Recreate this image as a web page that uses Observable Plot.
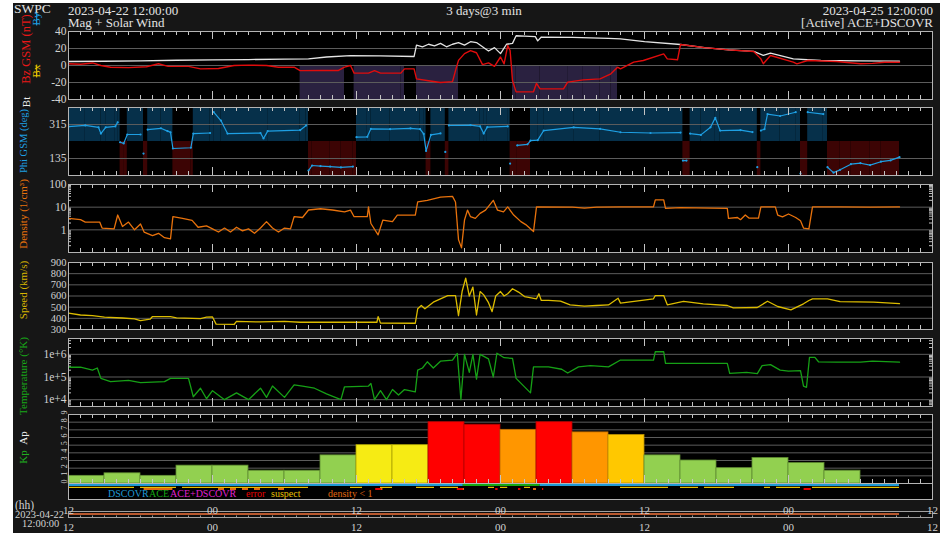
<!DOCTYPE html>
<html><head><meta charset="utf-8">
<script src="https://cdn.jsdelivr.net/npm/d3@7"></script>
<script src="https://cdn.jsdelivr.net/npm/@observablehq/plot@0.6"></script>
<style>
html,body{margin:0;padding:0;background:#fff;}
#root{position:relative;width:940px;height:533px;overflow:hidden;background:#fff;}
#bg{position:absolute;left:13px;top:3px;width:927px;height:530px;background:#161616;}
svg.p{position:absolute;left:0;}
</style></head><body><div id="root"><div id="bg"></div></div>
<script>
// ---------------- DATA (hours since 2023-04-22 12:00 UT) ----------------
const timeTickHours = [0, 12, 24, 36, 48, 60, 72];
const timeTickLabels = ["12", "00", "12", "00", "12", "00", "12"];

const bzTicks = [40, 20, 0, -20, -40];
const phiTicks = [315, 135];
const densityTicks = [100, 10, 1];
const densityTickLabels = ["100", "10", "1"];
const speedTicks = [900, 800, 700, 600, 500, 400, 300];
const tempTicks = [1e6, 1e5, 1e4];
const tempTickLabels = ["1e+6", "1e+5", "1e+4"];
const kpTicks = [0, 1, 2, 3, 4, 5, 6, 7, 8, 9];

const btSeries = [[0,4.7],[3,5],[6,5.5],[9,6.2],[12,6.5],[15,7],[18,7.5],[20,7.8],[21.5,10],[23.5,11.5],[26,11.3],[28.8,10.6],[29,24],[29.5,22],[30,25],[30.5,23],[31,26],[31.5,22],[32,25],[32.5,27],[33,24],[33.5,28],[34,27],[34.5,22],[35,17],[35.5,21],[36,14],[36.5,25],[37,26],[37.3,35],[38,34.5],[38.9,34],[39.1,29],[39.4,33.5],[42,33],[45,32],[46,31.4],[48,28],[51,24.7],[53,21],[55,18.4],[57.1,16.5],[57.9,12],[58.5,14.5],[60.4,7.8],[62.7,5.9],[66,5.4],[69.25,5.1]];

const bzSeries = [[0,2],[1,1.5],[2,3],[2.7,0],[3.5,-2],[5,-2.5],[6.5,-1.5],[7.5,2],[8.3,-1],[10,-1],[11,-4],[12.5,-3.5],[13.8,0],[15,0.5],[16.5,0],[17.5,-2],[18.8,-2],[19.3,-6],[21,-5.9],[22.5,-5.8],[23,-2],[23.5,0],[23.8,-9],[25,-9],[25.5,-6],[26,-9],[27.7,-9],[28,-4],[28.8,-4],[29,-15.7],[30,-18],[31,-20],[32,-19],[32.25,-6],[32.5,6],[33,14],[33.5,17.6],[34,15],[34.5,1],[35,3],[35.5,-1],[36,10],[36.3,2],[36.6,23.5],[36.8,17.6],[37,-17.6],[37.3,-31],[38.75,-31],[39,-21],[39.3,-27.5],[41.25,-27.5],[41.6,-19.6],[42.9,-16.9],[44.3,-15.7],[45.2,-9.8],[45.75,-2],[46,-4],[47.1,3.9],[47.9,5.9],[49.6,13.7],[49.9,7.8],[50.75,6.7],[51,24.7],[53,21],[55,18.4],[57.1,16.5],[57.7,7.8],[57.9,2],[58.5,11.8],[60.4,3.9],[60.7,2],[61.6,5.9],[64,4.7],[66,2],[67,2.5],[68,3.9],[69.25,3.9]];

const phiSeries = [[0,304],[1.4,310],[2.5,300],[2.7,267],[3.1,300],[3.9,305],[4.1,327],[4.3,221],[4.6,215],[4.9,262],[6,262],[6.25,161],[6.6,288],[7.7,295],[8.25,280],[8.5,274],[8.7,188],[10.2,192],[10.4,267],[11.8,270],[12.1,380],[12.7,336],[13.25,267],[16,270],[16.25,241],[16.6,280],[19.3,285],[19.8,310],[20,71],[20.3,98],[21,95],[21.8,92],[22.7,88],[23.7,92],[24,248],[24.9,250],[25.2,292],[26.8,290],[28.5,295],[29.3,290],[29.6,265],[29.8,175],[30.2,260],[31,268],[31.4,170],[31.7,310],[33.5,312],[34.3,305],[34.6,267],[34.9,301],[36.6,305],[36.8,108],[37.4,204],[38.25,210],[38.5,230],[39.1,232],[39.6,283],[42.1,300],[44.3,292],[46,274],[48.5,270],[51,272],[51.2,124],[51.5,124],[51.8,267],[52.7,260],[53.5,300],[53.9,350],[54.3,283],[56,285],[57,275],[57.4,89],[57.7,283],[58,290],[58.25,370],[59.3,360],[60.6,380],[61,55],[61.6,380],[62.9,370],[63.25,89],[63.75,60],[64.3,75],[65.2,105],[66,110],[66.8,100],[67.7,118],[68.5,125],[69.25,142]];

const densitySeries = [[0,3.2],[1,2.8],[1.4,2.2],[2.6,2.2],[2.8,1.2],[3.8,1.1],[4.1,4.5],[4.5,1.4],[5,2.2],[5.5,1],[6,1.8],[6.3,0.8],[7,0.55],[7.5,0.7],[8,0.45],[8.5,0.4],[8.7,3.8],[9.5,3.2],[10.3,2.6],[10.8,1.3],[11.5,1.5],[12,1.1],[12.5,0.8],[13,1.2],[13.5,0.8],[14,1.3],[14.5,0.9],[15,1.1],[15.5,0.7],[16,1.2],[16.5,2.3],[17,1.2],[17.5,0.8],[18,1.2],[18.5,1.1],[18.8,3.8],[19.5,3.5],[20,7.5],[21,8.5],[22,7.5],[23,6.2],[23.5,7.4],[23.8,3.8],[24.9,3.8],[25,10.3],[25.2,1.9],[25.8,0.6],[26.2,2.7],[27,2.3],[27.4,4.5],[28.9,4.5],[29.1,17],[29.9,20],[31,28],[32,30],[32.25,17],[32.5,0.37],[32.75,0.16],[33,2.7],[33.25,7.4],[33.5,3.8],[33.9,3.2],[34.3,5.3],[34.75,7.4],[35.4,20],[35.75,7.4],[36.25,6.2],[36.6,10.3],[37.1,4.5],[37.7,2.3],[38.1,1.7],[38.75,0.84],[39,10.3],[42,10],[43,9],[44,10],[46,10.3],[48.75,10.3],[48.9,21],[49.6,21],[49.75,8.8],[51,9.5],[54.9,8.8],[55,3.2],[55.75,3.5],[56,2.8],[56.4,4.5],[56.7,3.3],[57.5,3.3],[57.7,10.3],[58.9,10.3],[59.1,4.5],[59.5,3.7],[60,5],[60.6,3.5],[61,2.5],[61.25,1.2],[61.7,1.1],[62,10.3],[64.3,10.3],[66.8,10],[69.25,10.3]];

const speedSeries = [[0,446],[1,430],[2,425],[3,410],[4.5,403],[5.5,395],[6,380],[6.8,392],[7,416],[8.5,416],[9,405],[11,398],[11.5,410],[12,412],[12.3,348],[13.8,345],[14,372],[16,368],[18,372],[19.3,365],[24,365],[25.7,365],[25.8,416],[26,357],[28.9,356],[29.1,485],[29.4,515],[29.7,485],[30.4,545],[31.6,604],[32.25,604],[32.5,425],[32.8,640],[33.1,760],[33.4,600],[33.7,680],[34,430],[34.3,640],[34.6,610],[35,540],[35.3,460],[35.6,600],[36,640],[36.3,600],[36.6,620],[37,665],[37.5,635],[38,595],[39,575],[39.2,620],[39.4,560],[40,560],[41,555],[41.8,520],[43,510],[44,515],[45,520],[45.8,580],[46,536],[48.75,575],[48.9,604],[49.6,604],[49.9,521],[51.25,551],[52.9,530],[54.9,515],[55.4,494],[57.4,497],[58.25,553],[59.1,506],[60.2,476],[61.25,530],[61.7,560],[62,575],[63.25,575],[64.3,550],[67.1,545],[69.25,531]];

const tempSeries = [[0,2.7e5],[1,2.7e5],[2,2.0e5],[2.4,2.5e5],[2.7,8.7e4],[3.5,6.2e4],[5,7.1e4],[6,5.6e4],[7,6.0e4],[8,6.3e4],[8.5,8.7e4],[10,8.7e4],[10.4,1.35e4],[11,3.2e4],[11.5,1.1e4],[12,2.5e4],[13,1.0e4],[14,2.0e4],[15,1.0e4],[16,3.2e4],[16.5,1.26e4],[17,4.0e4],[18,1.26e4],[18.8,4.5e4],[19.5,4.0e4],[20.5,3.2e4],[21.5,1.8e4],[22.7,1.0e4],[23,3.7e4],[25,4.0e4],[25.2,5.2e4],[25.5,1.0e4],[26,2.5e4],[26.5,1.0e4],[27,2.8e4],[27.5,1.6e4],[28,2.8e4],[28.9,2.2e4],[29.1,2.0e5],[29.5,2.5e5],[29.9,4.7e5],[30.4,2.5e5],[31,5.0e5],[32,5.6e5],[32.4,1.1e6],[32.7,1.0e4],[33,1.0e6],[33.4,1.6e5],[33.7,1.0e6],[34,8.0e4],[34.3,1.0e6],[35,6.3e5],[35.4,1.0e5],[35.7,1.12e6],[36.3,7.1e5],[37,6.6e5],[37.3,8.7e4],[38.5,2.0e4],[38.75,2.8e5],[40,2.8e5],[41.1,2.2e5],[41.6,1.5e5],[42.5,2.8e5],[43.5,3.2e5],[45,2.8e5],[46,5.6e5],[48.75,5.6e5],[48.9,1.3e6],[49.6,1.3e6],[49.75,4.0e5],[52,4.0e5],[54.9,4.0e5],[55.1,1.45e5],[56.5,1.6e5],[57.4,1.4e5],[57.8,3.2e5],[58.5,3.5e5],[59.3,2.0e5],[60,1.8e5],[61,1.9e5],[61.25,4.0e4],[61.5,3.5e4],[61.75,7.4e5],[62.2,7.4e5],[62.5,4.7e5],[64,4.5e5],[66,4.5e5],[67,5.0e5],[69.25,4.5e5]];

// Kp, one value per 3-hour interval starting 2023-04-22 12:00
const kpValues = [1, 1.33, 1, 2.33, 2.33, 1.67, 1.67, 3.67, 5, 5, 8, 7.67, 7, 8, 6.67, 6.33, 3.67, 3, 2, 3.33, 2.67, 1.67];

const sourceSegments = [[0, 32.9, "DSCOVR"], [32.9, 39.3, "ACE"], [39.3, 69.25, "DSCOVR"]];
const suspectFlags = [[0,5.5],[6,9],[9.5,20],[23.5,24.5],[26,27],[29,30.5],[31,32.5],[35,35.5],[36,36.6],[38,38.5],[46,50],[51,52.5],[53,55.5],[58,58.5],[59,61],[62,69.25]];
const errorFlags = [[25.6,26.1],[32.4,32.9],[35.6,35.8],[37.5,37.7],[39.5,39.6],[61.3,61.9]];
const coverage = [[0, 69.25]];

// ---------------- STYLE ----------------
const FONT = "'Liberation Serif','Times New Roman',serif";
const W = 940, ML = 68, MR = 8, PAD = 8;
const xDomain = [0, 72];
const TICK = "#c4c4c4", FRAME = "#b4b4b4", GRID = "#5c5c5c", LABEL = "#d2d2d2";
const C = {bt: "#e4e4e4", bz: "#e00c0c", phi: "#1e9fe3", dens: "#e8720c", speed: "#dcbc00", temp: "#16a016",
  south: "#2a2140", away: "#06304a", toward: "#3c0404",
  dscovr: "#1e9ad6", ace: "#14a814", both: "#e020d0", err: "#e80000", suspect: "#e8c000", dlow: "#e06a10", cover: "#b8582e"};
const kpColor = k => k >= 7.67 ? "#ff0000" : k >= 6.67 ? "#ff9600" : k >= 6 ? "#ffc800" : k >= 4.67 ? "#f6eb14" : "#92d050";
const kpStroke = k => k >= 7.67 ? "#b00000" : k >= 6.67 ? "#b86800" : k >= 6 ? "#b89000" : k >= 4.67 ? "#aaa000" : "#5e8a30";

const root = document.getElementById("root");
const hourTicks = d3.range(1, 72);
const minorTicks = hourTicks.filter(t => t % 12 !== 0);
const majorTicks = hourTicks.filter(t => t % 12 === 0);

function tickMarks(h) {
  return [
    Plot.ruleX(minorTicks, {x: d => d, insetTop: h - 4, stroke: TICK}),
    Plot.ruleX(minorTicks, {x: d => d, insetBottom: h - 4, stroke: TICK}),
    Plot.ruleX(majorTicks, {x: d => d, insetTop: h - 8, stroke: TICK}),
    Plot.ruleX(majorTicks, {x: d => d, insetBottom: h - 8, stroke: TICK})
  ];
}
function yLabels(values, labels, extra = {}) {
  return Plot.text(values, {y: d => d, text: (d, i) => labels[i], frameAnchor: "left", textAnchor: "end", dx: -2, fill: LABEL, fontSize: 11.5, ...extra});
}
function place(svg, top) {
  svg.classList.add("p");
  svg.style.top = top + "px";
  root.appendChild(svg);
}
function panel(top, h, yOpts, marks, frame = true) {
  const svg = Plot.plot({
    width: W, height: h + 2 * PAD, marginTop: PAD, marginBottom: PAD, marginLeft: ML, marginRight: MR,
    x: {domain: xDomain, axis: null},
    y: {...yOpts, axis: null},
    style: {background: "transparent", overflow: "visible", fontFamily: FONT},
    marks: [Plot.frame({fill: "black"}), ...marks, ...tickMarks(h), frame ? Plot.frame({stroke: FRAME}) : null]
  });
  place(svg, top - PAD);
}
const pts = s => s.map(([h, v]) => ({h, v}));
function intervals(series, test) {
  const out = [];
  for (let i = 0; i < series.length - 1; i++) if (test(series[i][1])) out.push({x1: series[i][0], x2: series[i + 1][0], v: series[i][1]});
  return out;
}

// ---- Panel 1: Bt / Bz ----
const bzDomain = [-40, 40];
panel(31, 68, {domain: bzDomain}, [
  Plot.rect(intervals(bzSeries, v => v <= -5), {x1: "x1", x2: "x2", y1: 0, y2: bzDomain[0], fill: C.south}),
  Plot.ruleY(bzTicks.slice(1, -1), {stroke: GRID}),
  Plot.line(pts(btSeries), {x: "h", y: "v", stroke: C.bt, strokeWidth: 1.3, clip: true}),
  Plot.line(pts(bzSeries), {x: "h", y: "v", stroke: C.bz, strokeWidth: 1.4, clip: true}),
  yLabels(bzTicks, bzTicks.map(String))
]);

// ---- Panel 2: Phi ----
const phiDomain = [45, 405], phiSplit = 225;
let seg = 0;
const phiPts = phiSeries.map(([h, v], i) => { if (i > 0 && Math.abs(v - phiSeries[i - 1][1]) > 90) seg++; return {h, v, seg}; });
const sectors = phiSeries.slice(0, -1).map(([h, v], i) => ({x1: h, x2: phiSeries[i + 1][0], away: v >= phiSplit}));
panel(107, 68, {domain: phiDomain}, [
  Plot.rect(sectors, {x1: "x1", x2: "x2", y1: d => d.away ? phiSplit : phiDomain[0], y2: d => d.away ? phiDomain[1] : phiSplit, fill: d => d.away ? C.away : C.toward}),
  Plot.ruleY(phiTicks, {stroke: GRID}),
  Plot.line(phiPts, {x: "h", y: "v", z: "seg", stroke: C.phi, strokeWidth: 1.2, clip: true}),
  Plot.dot(phiPts, {x: "h", y: "v", r: 1.1, fill: C.phi, clip: true}),
  yLabels(phiTicks, phiTicks.map(String))
]);

// ---- Panel 3: Density ----
const densMinor = [0.2,0.3,0.4,0.5,0.6,0.7,0.8,0.9,2,3,4,5,6,7,8,9,20,30,40,50,60,70,80,90];
panel(184, 68, {type: "log", domain: [0.1, 100]}, [
  Plot.ruleY([10, 1], {stroke: GRID}),
  Plot.ruleY(densMinor, {y: d => d, insetRight: 861, stroke: TICK}),
  Plot.ruleY(densMinor, {y: d => d, insetLeft: 861, stroke: TICK}),
  Plot.line(pts(densitySeries), {x: "h", y: "v", stroke: C.dens, strokeWidth: 1.3, clip: true}),
  yLabels(densityTicks, densityTickLabels)
]);

// ---- Panel 4: Speed ----
panel(262, 67, {domain: [300, 900]}, [
  Plot.ruleY(speedTicks.slice(1, -1), {stroke: GRID}),
  Plot.line(pts(speedSeries), {x: "h", y: "v", stroke: C.speed, strokeWidth: 1.3, clip: true}),
  yLabels(speedTicks, speedTicks.map(String), {fontSize: 10.5})
]);

// ---- Panel 5: Temperature ----
const tempMinor = [6e3,7e3,8e3,9e3,2e4,3e4,4e4,5e4,6e4,7e4,8e4,9e4,2e5,3e5,4e5,5e5,6e5,7e5,8e5,9e5,2e6,3e6,4e6];
panel(338, 68, {type: "log", domain: [5e3, 5e6]}, [
  Plot.ruleY(tempTicks, {stroke: GRID}),
  Plot.ruleY(tempMinor, {y: d => d, insetRight: 861, stroke: TICK}),
  Plot.ruleY(tempMinor, {y: d => d, insetLeft: 861, stroke: TICK}),
  Plot.line(pts(tempSeries), {x: "h", y: "v", stroke: C.temp, strokeWidth: 1.3, clip: true}),
  yLabels(tempTicks, tempTickLabels)
]);

// ---- Panel 6: Kp ----
const kpBars = kpValues.map((k, i) => ({x1: 3 * i, x2: 3 * i + 3, k}));
panel(414, 69, {domain: [0, 9]}, [
  Plot.ruleY(kpTicks.slice(1, -1), {stroke: GRID}),
  Plot.rect(kpBars, {x1: "x1", x2: "x2", y1: 0, y2: "k", fill: d => kpColor(d.k), stroke: d => kpStroke(d.k), strokeWidth: 0.8}),
  Plot.text(kpTicks, {y: d => d, text: d => String(d), frameAnchor: "left", dx: -4, rotate: -90, fontSize: 8, fill: LABEL})
]);

// ---- Source / quality strip ----
const densLow = intervals(densitySeries, v => v < 1);
const strip = Plot.plot({
  width: W, height: 16, marginTop: 0, marginBottom: 0, marginLeft: ML, marginRight: MR,
  x: {domain: xDomain, axis: null},
  y: {type: "band", domain: ["source", "suspect", "flag"], range: [0.5, 7.5], padding: 0, axis: null},
  style: {background: "transparent", overflow: "visible", fontFamily: FONT},
  marks: [
    Plot.frame({fill: "black"}),
    Plot.barX(sourceSegments, {x1: d => d[0], x2: d => d[1], y: () => "source", fill: d => d[2] === "ACE" ? C.ace : C.dscovr}),
    Plot.barX(suspectFlags, {x1: d => d[0], x2: d => d[1], y: () => "suspect", fill: C.suspect, insetTop: 0.8}),
    Plot.barX(densLow, {x1: "x1", x2: "x2", y: () => "flag", fill: C.dlow}),
    Plot.barX(errorFlags, {x1: d => d[0], x2: d => d[1], y: () => "flag", fill: C.err}),
    Plot.frame({stroke: FRAME})
  ]
});
place(strip, 483);

// ---- Bottom time axis ----
const cov = Plot.plot({
  width: W, height: 6, marginTop: 0, marginBottom: 0, marginLeft: ML, marginRight: MR,
  x: {domain: xDomain, axis: null},
  style: {background: "transparent", overflow: "visible"},
  marks: [
    Plot.frame({fill: "#0c0c0c"}),
    Plot.barX(coverage, {x1: d => d[0], x2: d => d[1], insetTop: 2, insetBottom: 2, fill: C.cover}),
    Plot.ruleX(hourTicks, {x: d => d, insetTop: 4.5, stroke: "#999"}),
    Plot.frame({stroke: "#a0a0a0"})
  ]
});
place(cov, 511);
const tAxis = Plot.plot({
  width: W, height: 30, marginTop: 0, marginBottom: 0, marginLeft: ML, marginRight: MR,
  x: {domain: xDomain, axis: null},
  style: {background: "transparent", overflow: "visible", fontFamily: FONT},
  marks: [
    Plot.text(timeTickHours, {x: d => d, text: (d, i) => timeTickLabels[i], frameAnchor: "top", dy: 5.5, fill: LABEL, fontSize: 11}),
    Plot.text(timeTickHours, {x: d => d, text: (d, i) => timeTickLabels[i], frameAnchor: "top", dy: 22.5, fill: LABEL, fontSize: 11})
  ]
});
place(tAxis, 500);

// ---- Text overlay ----
const ov = d3.select(root).append("svg").attr("width", 940).attr("height", 533)
  .style("position", "absolute").style("left", "0px").style("top", "0px").style("font-family", FONT);
function T(x, y, s, {fill = "#e2e2e2", size = 12, anchor = "start", rotate = 0, deco = null} = {}) {
  const t = ov.append("text").attr("transform", `translate(${x},${y}) rotate(${rotate})`)
    .attr("text-anchor", anchor).attr("fill", fill).attr("font-size", size).text(s);
  if (deco) t.attr("text-decoration", deco);
}
T(14, 13, "SWPC", {size: 13.5});
T(68, 15, "2023-04-22 12:00:00", {size: 13});
T(68, 27, "Mag + Solar Wind", {size: 13});
T(484, 15, "3 days@3 min", {size: 13, anchor: "middle"});
T(933, 15, "2023-04-25 12:00:00", {size: 13, anchor: "end"});
T(933, 27, "[Active] ACE+DSCOVR", {size: 13, anchor: "end"});

T(30, 49, "Bz GSM (nT)", {size: 12.5, fill: "#e81818", rotate: -90, anchor: "middle"});
T(30, 102, "Bt", {size: 11, fill: "#eeeeee", rotate: -90, anchor: "middle"});
T(40, 19, "By", {size: 11, fill: C.phi, rotate: -90, anchor: "middle", deco: "line-through"});
T(40, 71, "Bx", {size: 11, fill: "#e8c800", rotate: -90, anchor: "middle", deco: "line-through"});
T(27, 141, "Phi GSM (deg)", {size: 10.5, fill: C.phi, rotate: -90, anchor: "middle"});
T(27, 214, "Density (1/cm³)", {size: 11, fill: C.dens, rotate: -90, anchor: "middle"});
T(27, 290, "Speed (km/s)", {size: 11, fill: "#d8b400", rotate: -90, anchor: "middle"});
T(27, 376, "Temperature (°K)", {size: 11, fill: "#18a818", rotate: -90, anchor: "middle"});
T(27, 457, "Kp", {size: 11, fill: "#20b020", rotate: -90, anchor: "middle"});
T(27, 438, "Ap", {size: 11, fill: "#eeeeee", rotate: -90, anchor: "middle"});

T(108, 497, "DSCOVR", {size: 10, fill: C.dscovr});
T(149, 497, "ACE", {size: 10, fill: C.ace});
T(170, 497, "ACE+DSCOVR", {size: 10, fill: C.both});
T(246, 497, "error", {size: 10, fill: C.err});
T(271, 497, "suspect", {size: 10, fill: C.suspect});
T(328, 497, "density < 1", {size: 10, fill: C.dlow});

T(15, 509, "(hh)", {size: 11.5, fill: LABEL});
T(15, 518, "2023-04-22", {size: 10.5, fill: LABEL});
T(22, 527, "12:00:00", {size: 10.5, fill: LABEL});
</script></body></html>
